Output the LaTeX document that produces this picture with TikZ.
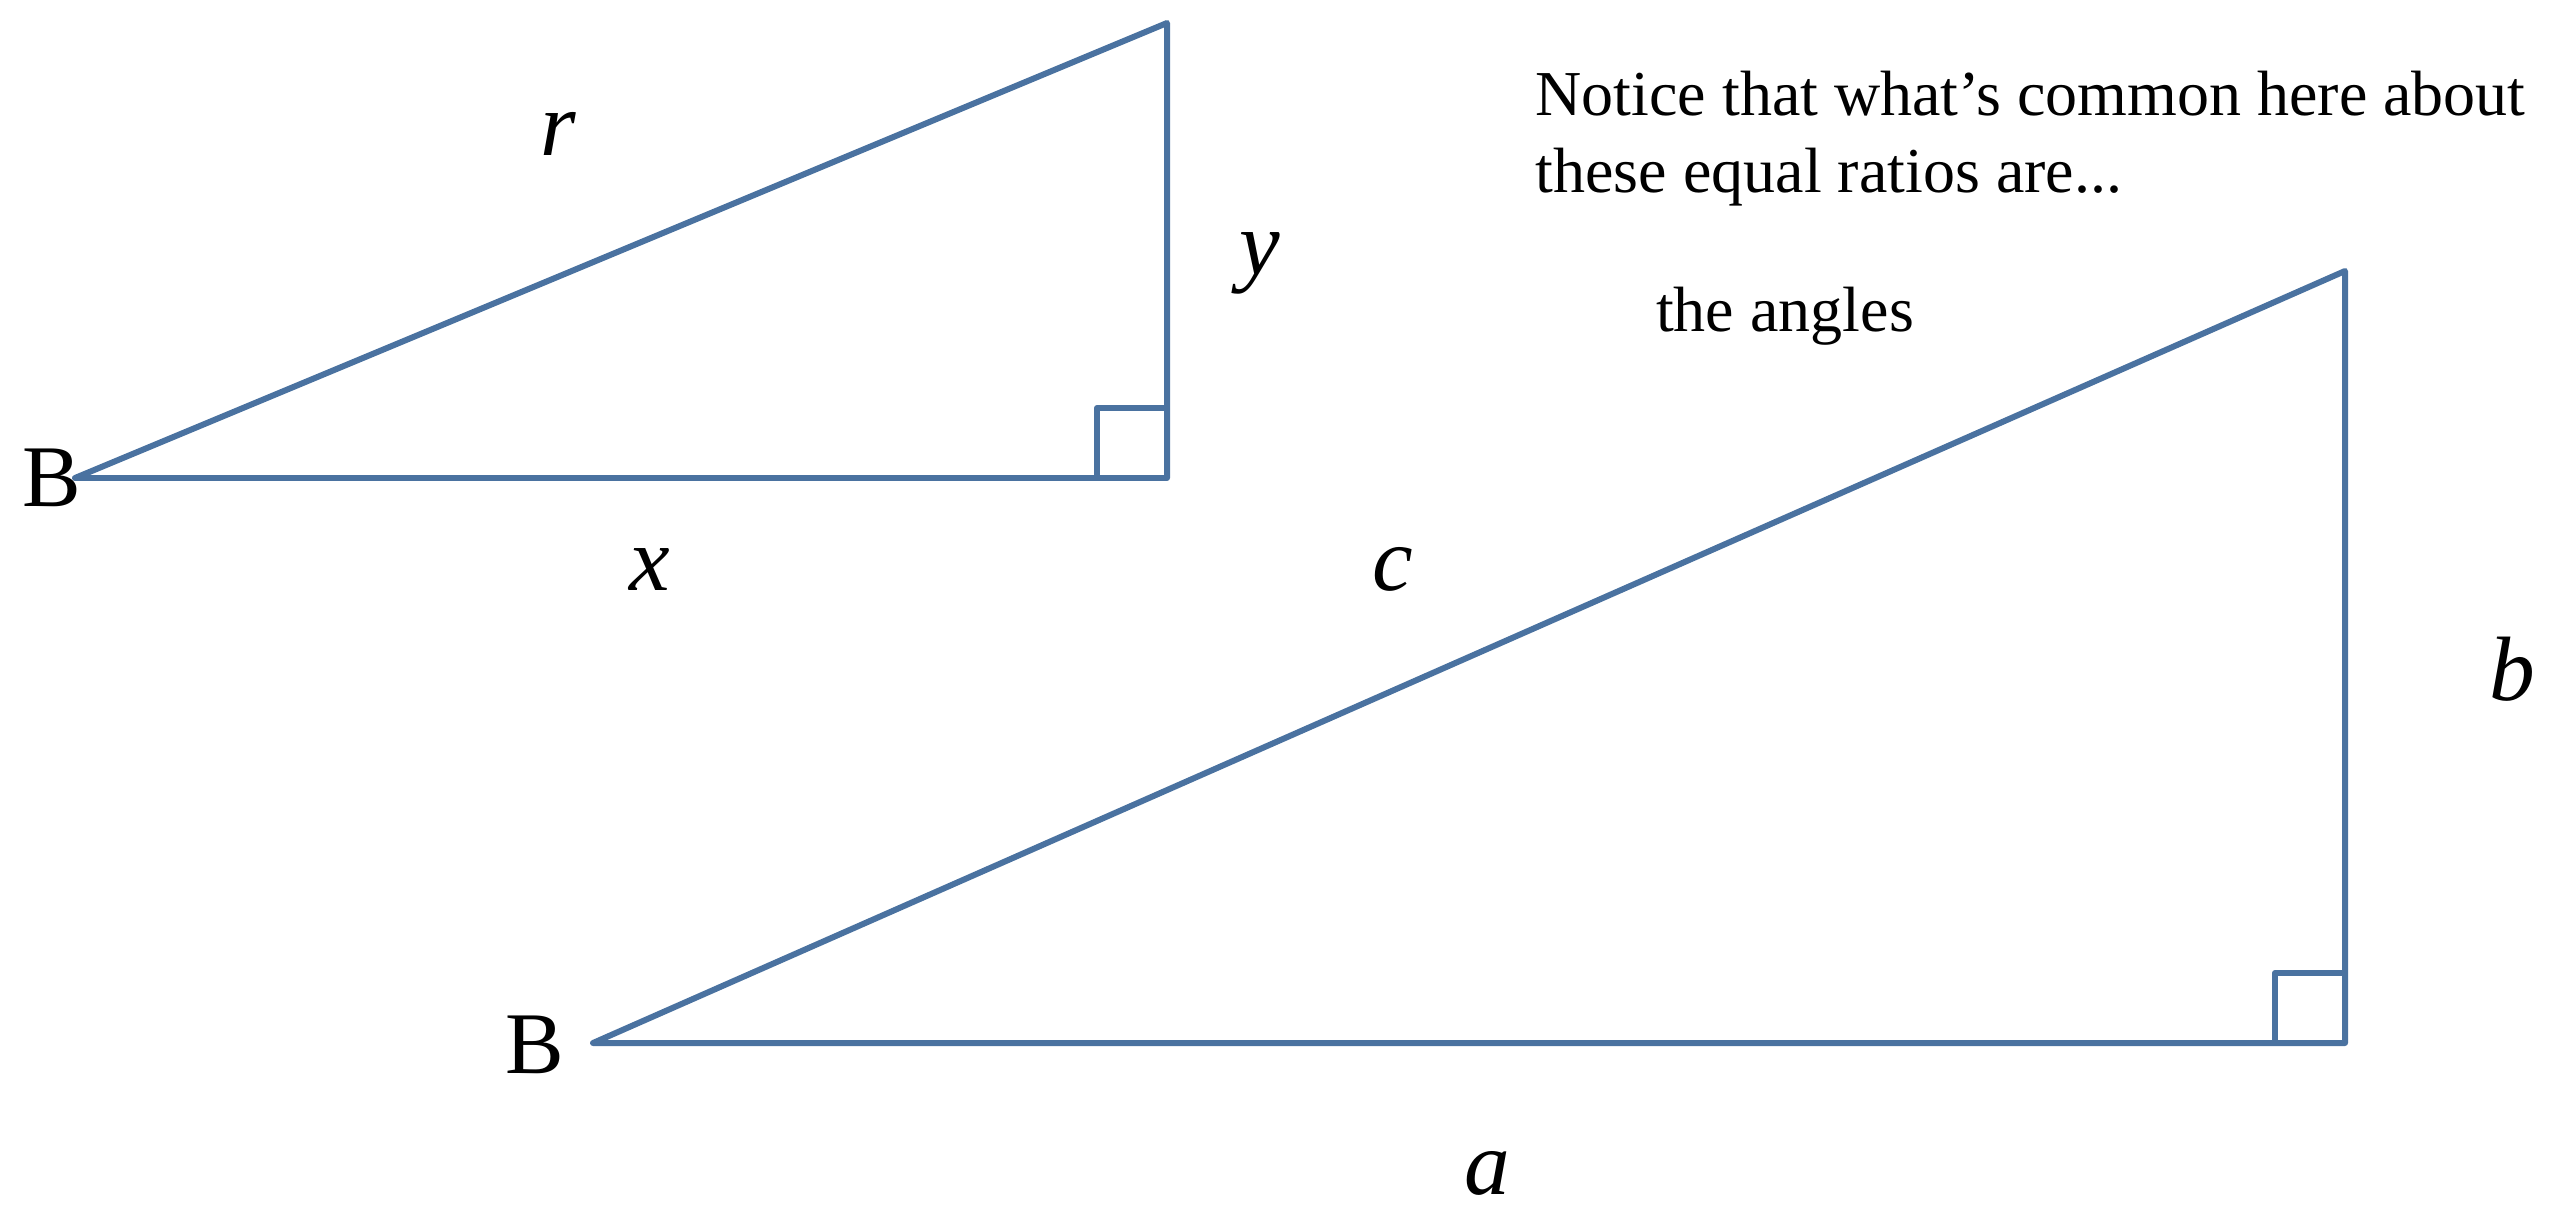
\documentclass[tikz,border=0pt]{standalone}
\usepackage{fontspec}
\setmainfont{Liberation Serif}
\usetikzlibrary{positioning}
\definecolor{edgeblue}{RGB}{74,114,160}

\begin{document}
\begin{tikzpicture}[
          x=0.01cm, y=-0.01cm,
          side/.style={draw=edgeblue, line width=1.7pt, line join=round},
          lbl/.style={font=\fontsize{26}{30}\selectfont\itshape, inner sep=0pt, anchor=base},
          vtx/.style={font=\fontsize{25}{30}\selectfont, inner sep=0pt, anchor=base},
          note/.style={font=\fontsize{18.2}{22}\selectfont, inner sep=0pt, align=left}
        ]
          \useasboundingbox (0,0) rectangle (2560,1206);
          % small triangle
          \coordinate (B1) at (75,478);
          \coordinate (C1) at (1167,478);
          \coordinate (A1) at (1167,23);
          \draw[side] (B1) -- (C1) -- (A1) -- cycle;
          \draw[side] (C1) ++(-70,0) -- ++(0,-70) -- ++(70,0);
          \node[vtx] (b1) at (52,506) {B};
          \node[lbl] (r1) at (558,155) {r};
          \node[lbl] (y1) at (1260,274) {y};
          \node[lbl] (x1) at (650,590) {x};
          % large triangle
          \coordinate (B2) at (593,1043);
          \coordinate (C2) at (2345,1043);
          \coordinate (A2) at (2345,271);
          \draw[side] (B2) -- (C2) -- (A2) -- cycle;
          \draw[side] (C2) ++(-70,0) -- ++(0,-70) -- ++(70,0);
          \node[vtx] (b2) at (535,1073) {B};
          \node[lbl] (c2) at (1393,590) {c};
          \node[lbl] (bb2) at (2512,700) {b};
          \node[lbl] (a2) at (1487,1194) {a};
          % remark
          \node[note, anchor=north west] (notice) at (1535,70)
            {Notice that what’s common here about\\these equal ratios are...};
          \node[note, anchor=base] (angles) at (1785,331) {the angles};
        \end{tikzpicture}
\end{document}
